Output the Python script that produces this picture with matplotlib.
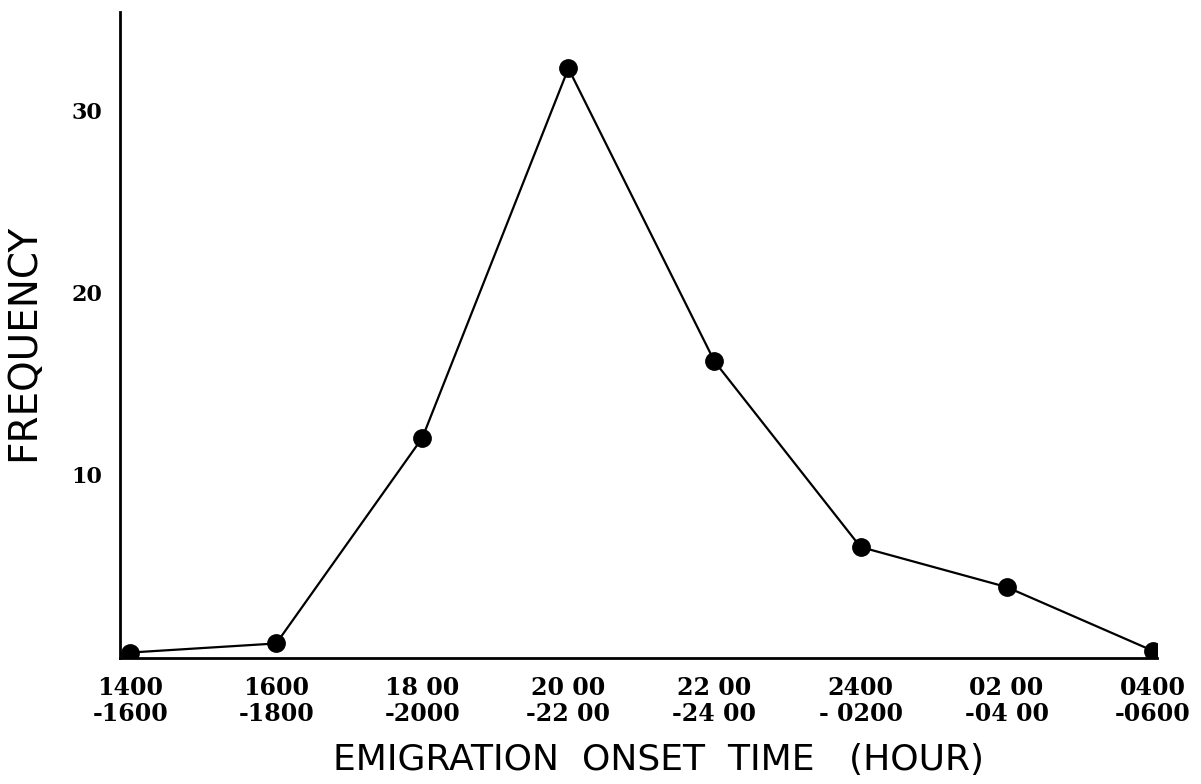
import matplotlib.pyplot as plt

# Emigration onset time windows and counts
starts = ['1400', '1600', '18 00', '20 00', '22 00', '2400', '02 00', '0400']
ends = ['-1600', '-1800', '-2000', '-22 00', '-24 00', '- 0200', '-04 00', '-0600']
frequency = [0.2, 0.7, 12.0, 32.3, 16.2, 6.0, 3.8, 0.3]
y_ticks = [10, 20, 30]

x = list(range(len(frequency)))
tick_labels = [f'{s}\n{e}' for s, e in zip(starts, ends)]

fig = plt.figure(figsize=(12.01, 7.84), dpi=100)
ax = fig.add_axes([0.0999, 0.1607, 0.8635, 0.8240])

ax.plot(x, frequency, color='black', linewidth=1.6,
        marker='o', markersize=12.5, markerfacecolor='black', markeredgecolor='black')

ax.set_xlim(-0.07, 7.03)
ax.set_ylim(-0.1, 35.4)

ax.spines['top'].set_visible(False)
ax.spines['right'].set_visible(False)
ax.spines['left'].set_linewidth(2)
ax.spines['bottom'].set_linewidth(2)

ax.set_xticks(x)
ax.set_xticklabels(tick_labels, fontfamily='DejaVu Serif', fontweight='bold',
                   fontsize=17, linespacing=1.12)
ax.set_yticks(y_ticks)
ax.set_yticklabels([str(v) for v in y_ticks], fontfamily='DejaVu Serif',
                   fontweight='bold', fontsize=16)
ax.tick_params(axis='both', length=0)
ax.tick_params(axis='x', pad=13)
ax.tick_params(axis='y', pad=13)

ax.set_xlabel('EMIGRATION  ONSET  TIME   (HOUR)', fontfamily='DejaVu Sans',
              fontsize=26)
ax.xaxis.set_label_coords(0.519, -0.132)
ax.set_ylabel('FREQUENCY', fontfamily='DejaVu Sans', fontsize=28)
ax.yaxis.set_label_coords(-0.0753, 0.489)

fig.savefig('out.png', dpi=100)
